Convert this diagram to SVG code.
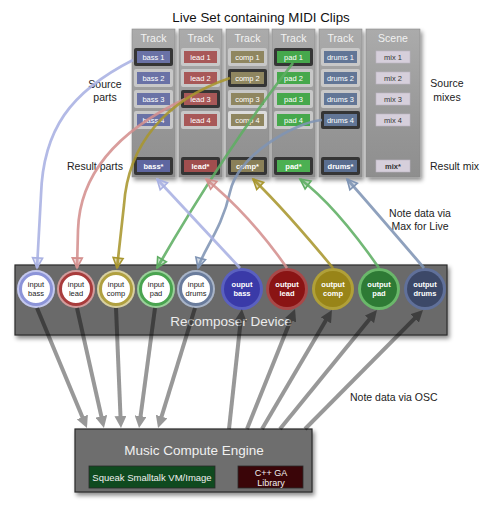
<svg xmlns="http://www.w3.org/2000/svg" width="486" height="510" viewBox="0 0 486 510">
<defs>
<style>
text{font-family:"Liberation Sans",Arial,sans-serif}
.lbl{font-size:10.5px;fill:#222}
.hdr{font-size:10.5px;fill:#f2f2f2;text-anchor:middle}
.ct{font-size:7.5px;fill:#fff;text-anchor:middle}
.ctb{font-size:7.5px;fill:#fff;text-anchor:middle;font-weight:bold}
.mt{font-size:7.5px;fill:#333;text-anchor:middle}
.col{fill:url(#colg);stroke:#8a8a8a;stroke-width:0.6}
.fr{fill:#c8c8c8}
.frs{fill:#353535}
.it{font-size:7.5px;fill:#1a1a1a;text-anchor:middle}
.ot{font-size:7.5px;fill:#fff;text-anchor:middle;font-weight:bold}
.cl{fill:none;stroke-width:2.7;stroke-opacity:0.88}
</style>
<linearGradient id="colg" x1="0" y1="0" x2="0" y2="1">
<stop offset="0" stop-color="#ababab"/>
<stop offset="0.7" stop-color="#959595"/>
<stop offset="1" stop-color="#8e8e8e"/>
</linearGradient>
<filter id="sh" x="-10%" y="-10%" width="130%" height="140%">
<feDropShadow dx="2" dy="3" stdDeviation="2" flood-color="#000" flood-opacity="0.45"/>
</filter>
<marker id="ag" markerUnits="userSpaceOnUse" markerWidth="12" markerHeight="12" refX="3" refY="6" orient="auto">
<path d="M0,0 L12,6 L0,12 z" fill="#000"/>
</marker>
<marker id="m-bass" markerUnits="userSpaceOnUse" markerWidth="12" markerHeight="12" refX="10" refY="5" orient="auto" overflow="visible">
<path d="M0,0 L10,5 L0,10 z" fill="#a9b1e2" fill-opacity="0.35" stroke="#a9b1e2" stroke-width="1.6"/>
</marker>
<marker id="m-lead" markerUnits="userSpaceOnUse" markerWidth="12" markerHeight="12" refX="10" refY="5" orient="auto" overflow="visible">
<path d="M0,0 L10,5 L0,10 z" fill="#d4908e" fill-opacity="0.35" stroke="#d4908e" stroke-width="1.6"/>
</marker>
<marker id="m-comp" markerUnits="userSpaceOnUse" markerWidth="12" markerHeight="12" refX="10" refY="5" orient="auto" overflow="visible">
<path d="M0,0 L10,5 L0,10 z" fill="#a8962e" fill-opacity="0.35" stroke="#a8962e" stroke-width="1.6"/>
</marker>
<marker id="m-pad" markerUnits="userSpaceOnUse" markerWidth="12" markerHeight="12" refX="10" refY="5" orient="auto" overflow="visible">
<path d="M0,0 L10,5 L0,10 z" fill="#5fae63" fill-opacity="0.35" stroke="#5fae63" stroke-width="1.6"/>
</marker>
<marker id="m-drums" markerUnits="userSpaceOnUse" markerWidth="12" markerHeight="12" refX="10" refY="5" orient="auto" overflow="visible">
<path d="M0,0 L10,5 L0,10 z" fill="#7f94b4" fill-opacity="0.35" stroke="#7f94b4" stroke-width="1.6"/>
</marker>
</defs>

<rect width="486" height="510" fill="#fff"/>

<text x="261" y="22" style="font-size:13.3px;fill:#111;text-anchor:middle">Live Set containing MIDI Clips</text>

<g id="labels">
<text class="lbl" x="105" y="88" text-anchor="middle">Source</text>
<text class="lbl" x="105" y="101" text-anchor="middle">parts</text>
<text class="lbl" x="123" y="170" text-anchor="end">Result parts</text>
<text class="lbl" x="447" y="87" text-anchor="middle">Source</text>
<text class="lbl" x="447" y="101" text-anchor="middle">mixes</text>
<text class="lbl" x="430" y="170">Result mix</text>
<text class="lbl" x="420" y="217" text-anchor="middle">Note data via</text>
<text class="lbl" x="420" y="230" text-anchor="middle">Max for Live</text>
<text class="lbl" x="350" y="401">Note data via OSC</text>
</g>

<g id="track-bass">
<rect class="col" x="132" y="29" width="43" height="148" filter="url(#sh)"/>
<text class="hdr" x="153.5" y="42">Track</text>
<rect class="frs" x="134" y="48" width="39" height="18" rx="2"/><rect x="137" y="51" width="33" height="12" fill="#6a72a6"/><text class="ct" x="153.5" y="59.7">bass 1</text>
<rect class="fr" x="134" y="69" width="39" height="18" rx="2"/><rect x="137" y="72" width="33" height="12" fill="#6a72a6"/><text class="ct" x="153.5" y="80.7">bass 2</text>
<rect class="fr" x="134" y="90" width="39" height="18" rx="2"/><rect x="137" y="93" width="33" height="12" fill="#6a72a6"/><text class="ct" x="153.5" y="101.7">bass 3</text>
<rect class="fr" x="134" y="111" width="39" height="18" rx="2"/><rect x="137" y="114" width="33" height="12" fill="#6a72a6"/><text class="ct" x="153.5" y="122.7">bass 4</text>
<rect class="frs" x="134" y="157" width="39" height="18" rx="2"/><rect x="137" y="160" width="33" height="12" fill="#5e66a0"/><text class="ctb" x="153.5" y="168.7">bass*</text>
</g>

<g id="track-lead">
<rect class="col" x="179" y="29" width="43" height="148" filter="url(#sh)"/>
<text class="hdr" x="200.5" y="42">Track</text>
<rect class="fr" x="181" y="48" width="39" height="18" rx="2"/><rect x="184" y="51" width="33" height="12" fill="#a85858"/><text class="ct" x="200.5" y="59.7">lead 1</text>
<rect class="fr" x="181" y="69" width="39" height="18" rx="2"/><rect x="184" y="72" width="33" height="12" fill="#a85858"/><text class="ct" x="200.5" y="80.7">lead 2</text>
<rect class="frs" x="181" y="90" width="39" height="18" rx="2"/><rect x="184" y="93" width="33" height="12" fill="#a85858"/><text class="ct" x="200.5" y="101.7">lead 3</text>
<rect class="fr" x="181" y="111" width="39" height="18" rx="2"/><rect x="184" y="114" width="33" height="12" fill="#a85858"/><text class="ct" x="200.5" y="122.7">lead 4</text>
<rect class="frs" x="181" y="157" width="39" height="18" rx="2"/><rect x="184" y="160" width="33" height="12" fill="#a04e4e"/><text class="ctb" x="200.5" y="168.7">lead*</text>
</g>

<g id="track-comp">
<rect class="col" x="226" y="29" width="43" height="148" filter="url(#sh)"/>
<text class="hdr" x="247.5" y="42">Track</text>
<rect class="fr" x="228" y="48" width="39" height="18" rx="2"/><rect x="231" y="51" width="33" height="12" fill="#8f8660"/><text class="ct" x="247.5" y="59.7">comp 1</text>
<rect class="frs" x="228" y="69" width="39" height="18" rx="2"/><rect x="231" y="72" width="33" height="12" fill="#8f8660"/><text class="ct" x="247.5" y="80.7">comp 2</text>
<rect class="fr" x="228" y="90" width="39" height="18" rx="2"/><rect x="231" y="93" width="33" height="12" fill="#8f8660"/><text class="ct" x="247.5" y="101.7">comp 3</text>
<rect x="228" y="111" width="39" height="18" rx="2" fill="#dcdcdc"/><rect x="231" y="114" width="33" height="12" fill="#8f8660"/><text class="ct" x="247.5" y="122.7">comp 4</text>
<rect class="frs" x="228" y="157" width="39" height="18" rx="2"/><rect x="231" y="160" width="33" height="12" fill="#8a8058"/><text class="ctb" x="247.5" y="168.7">comp*</text>
</g>

<g id="track-pad">
<rect class="col" x="272" y="29" width="43" height="148" filter="url(#sh)"/>
<text class="hdr" x="293.5" y="42">Track</text>
<rect class="frs" x="274" y="48" width="39" height="18" rx="2"/><rect x="277" y="51" width="33" height="12" fill="#46a84c"/><text class="ct" x="293.5" y="59.7">pad 1</text>
<rect class="fr" x="274" y="69" width="39" height="18" rx="2"/><rect x="277" y="72" width="33" height="12" fill="#46a84c"/><text class="ct" x="293.5" y="80.7">pad 2</text>
<rect class="fr" x="274" y="90" width="39" height="18" rx="2"/><rect x="277" y="93" width="33" height="12" fill="#46a84c"/><text class="ct" x="293.5" y="101.7">pad 3</text>
<rect class="fr" x="274" y="111" width="39" height="18" rx="2"/><rect x="277" y="114" width="33" height="12" fill="#46a84c"/><text class="ct" x="293.5" y="122.7">pad 4</text>
<rect class="frs" x="274" y="157" width="39" height="18" rx="2"/><rect x="277" y="160" width="33" height="12" fill="#4cb052"/><text class="ctb" x="293.5" y="168.7">pad*</text>
</g>

<g id="track-drums">
<rect class="col" x="319" y="29" width="43" height="148" filter="url(#sh)"/>
<text class="hdr" x="340.5" y="42">Track</text>
<rect class="fr" x="321" y="48" width="39" height="18" rx="2"/><rect x="324" y="51" width="33" height="12" fill="#627696"/><text class="ct" x="340.5" y="59.7">drums 1</text>
<rect class="fr" x="321" y="69" width="39" height="18" rx="2"/><rect x="324" y="72" width="33" height="12" fill="#627696"/><text class="ct" x="340.5" y="80.7">drums 2</text>
<rect class="fr" x="321" y="90" width="39" height="18" rx="2"/><rect x="324" y="93" width="33" height="12" fill="#627696"/><text class="ct" x="340.5" y="101.7">drums 3</text>
<rect class="frs" x="321" y="111" width="39" height="18" rx="2"/><rect x="324" y="114" width="33" height="12" fill="#627696"/><text class="ct" x="340.5" y="122.7">drums 4</text>
<rect class="frs" x="321" y="157" width="39" height="18" rx="2"/><rect x="324" y="160" width="33" height="12" fill="#5a6e90"/><text class="ctb" x="340.5" y="168.7">drums*</text>
</g>

<g id="scene">
<rect class="col" x="366" y="29" width="54" height="148" filter="url(#sh)"/>
<text class="hdr" x="393" y="42">Scene</text>
<rect x="376" y="51" width="34" height="12" fill="#d6cfdb" stroke="#bdb6c2" stroke-width="0.6"/><text class="mt" x="393" y="59.7">mix 1</text>
<rect x="376" y="72" width="34" height="12" fill="#d6cfdb" stroke="#bdb6c2" stroke-width="0.6"/><text class="mt" x="393" y="80.7">mix 2</text>
<rect x="376" y="93" width="34" height="12" fill="#d6cfdb" stroke="#bdb6c2" stroke-width="0.6"/><text class="mt" x="393" y="101.7">mix 3</text>
<rect x="376" y="114" width="34" height="12" fill="#d6cfdb" stroke="#bdb6c2" stroke-width="0.6"/><text class="mt" x="393" y="122.7">mix 4</text>
<rect x="376" y="160" width="34" height="12" fill="#d6cfdb" stroke="#bdb6c2" stroke-width="0.6"/><text class="mt" x="393" y="168.7" font-weight="bold">mix*</text>
</g>

<g id="recomposer-device">
<rect x="15" y="265" width="432" height="70" fill="#6b6b6b" stroke="#2a2a2a" stroke-width="1.2" filter="url(#sh)"/>
<text x="231" y="326" style="font-size:13.5px;fill:#ececec;text-anchor:middle">Recomposer Device</text>
</g>

<g id="input-bass"><circle cx="36" cy="289" r="19" fill="#c4c8ee"/><circle cx="36" cy="289" r="15.5" fill="#fff" stroke="#8c94d8" stroke-width="3"/><text class="it" x="36" y="287">input</text><text class="it" x="36" y="296">bass</text></g>
<g id="input-lead"><circle cx="76" cy="289" r="19" fill="#d29c9c"/><circle cx="76" cy="289" r="15.5" fill="#fff" stroke="#a83c3c" stroke-width="3"/><text class="it" x="76" y="287">input</text><text class="it" x="76" y="296">lead</text></g>
<g id="input-comp"><circle cx="116" cy="289" r="19" fill="#d8d0a0"/><circle cx="116" cy="289" r="15.5" fill="#fff" stroke="#b0a040" stroke-width="3"/><text class="it" x="116" y="287">input</text><text class="it" x="116" y="296">comp</text></g>
<g id="input-pad"><circle cx="156" cy="289" r="19" fill="#9ad09a"/><circle cx="156" cy="289" r="15.5" fill="#fff" stroke="#4aa450" stroke-width="3"/><text class="it" x="156" y="287">input</text><text class="it" x="156" y="296">pad</text></g>
<g id="input-drums"><circle cx="196" cy="289" r="19" fill="#a8b4c8"/><circle cx="196" cy="289" r="15.5" fill="#fff" stroke="#6a7c9c" stroke-width="3"/><text class="it" x="196" y="287">input</text><text class="it" x="196" y="296">drums</text></g>

<g id="output-bass"><circle cx="242" cy="289" r="21" fill="#5a60c0"/><circle cx="242" cy="289" r="18" fill="#3a3aa8"/><text class="ot" x="242" y="287">ouput</text><text class="ot" x="242" y="296">bass</text></g>
<g id="output-lead"><circle cx="287" cy="289" r="21" fill="#a84848"/><circle cx="287" cy="289" r="18" fill="#8a1414"/><text class="ot" x="287" y="287">output</text><text class="ot" x="287" y="296">lead</text></g>
<g id="output-comp"><circle cx="333" cy="289" r="21" fill="#b0a038"/><circle cx="333" cy="289" r="18" fill="#988418"/><text class="ot" x="333" y="287">output</text><text class="ot" x="333" y="296">comp</text></g>
<g id="output-pad"><circle cx="379" cy="289" r="21" fill="#6ab86a"/><circle cx="379" cy="289" r="18" fill="#2e7a35"/><text class="ot" x="379" y="287">output</text><text class="ot" x="379" y="296">pad</text></g>
<g id="output-drums"><circle cx="425" cy="289" r="21" fill="#60709a"/><circle cx="425" cy="289" r="18" fill="#3c4868"/><text class="ot" x="425" y="287">output</text><text class="ot" x="425" y="296">drums</text></g>

<g id="music-compute-engine">
<rect x="75" y="429" width="237" height="63" fill="#6e6e6e" stroke="#2a2a2a" stroke-width="1.2" filter="url(#sh)"/>
<text x="194" y="455" style="font-size:13.5px;fill:#f0f0f0;text-anchor:middle">Music Compute Engine</text>
<g id="squeak">
<rect x="89" y="466" width="126" height="22" fill="#0f4a1f" stroke="#2a2a2a" stroke-width="0.8"/>
<text x="152" y="480.5" style="font-size:9.5px;fill:#f0f0f0;text-anchor:middle">Squeak Smalltalk VM/Image</text>
</g>
<g id="cpp-ga">
<rect x="238" y="466" width="65" height="22" fill="#3a0508" stroke="#2a2a2a" stroke-width="0.8"/>
<text x="271" y="476" style="font-size:9px;fill:#f0f0f0;text-anchor:middle">C++ GA</text>
<text x="271" y="486" style="font-size:9px;fill:#f0f0f0;text-anchor:middle">Library</text>
</g>
</g>

<g id="connectors">
<g id="osc-arrows" opacity="0.4" stroke="#000" stroke-width="4" fill="none">
<line x1="37" y1="308" x2="83.5" y2="419.7" marker-end="url(#ag)"/>
<line x1="77" y1="308" x2="102" y2="419.2" marker-end="url(#ag)"/>
<line x1="116" y1="308" x2="120.6" y2="419" marker-end="url(#ag)"/>
<line x1="155" y1="308" x2="140.2" y2="419.1" marker-end="url(#ag)"/>
<line x1="195" y1="308" x2="160.7" y2="419.4" marker-end="url(#ag)"/>
<line x1="229" y1="429" x2="241" y2="318" marker-end="url(#ag)"/>
<line x1="247" y1="429" x2="291.7" y2="317.4" marker-end="url(#ag)"/>
<line x1="262" y1="429" x2="327.4" y2="317.8" marker-end="url(#ag)"/>
<line x1="280" y1="429" x2="371.3" y2="317" marker-end="url(#ag)"/>
<line x1="305" y1="429" x2="416.7" y2="316.4" marker-end="url(#ag)"/>
</g>
<g id="source-links">
<path class="cl" stroke="#a9b1e2" d="M133,60 C70,92 43,130 41,195 L37,268" marker-end="url(#m-bass)"/>
<path class="cl" stroke="#d4908e" d="M185,99 C130,125 80,165 78,230 L77,268" marker-end="url(#m-lead)"/>
<path class="cl" stroke="#a8962e" d="M230,78 C165,100 128,145 124,205 L117,268" marker-end="url(#m-comp)"/>
<path class="cl" stroke="#5fae63" d="M293,63 Q225,150 157,268" marker-end="url(#m-pad)"/>
<path class="cl" stroke="#7f94b4" d="M322,120 C295,122 238,155 230,192 S203,250 198,268" marker-end="url(#m-drums)"/>
</g>
<g id="result-links">
<path class="cl" stroke="#a9b1e2" d="M240,268 L157,179" marker-end="url(#m-bass)"/>
<path class="cl" stroke="#d4908e" d="M287,268 Q250,215 206,179" marker-end="url(#m-lead)"/>
<path class="cl" stroke="#a8962e" d="M333,268 Q285,210 253,179" marker-end="url(#m-comp)"/>
<path class="cl" stroke="#5fae63" d="M379,268 Q335,205 300,179" marker-end="url(#m-pad)"/>
<path class="cl" stroke="#7f94b4" d="M424,268 Q370,205 347,179" marker-end="url(#m-drums)"/>
</g>
</g>
</svg>
